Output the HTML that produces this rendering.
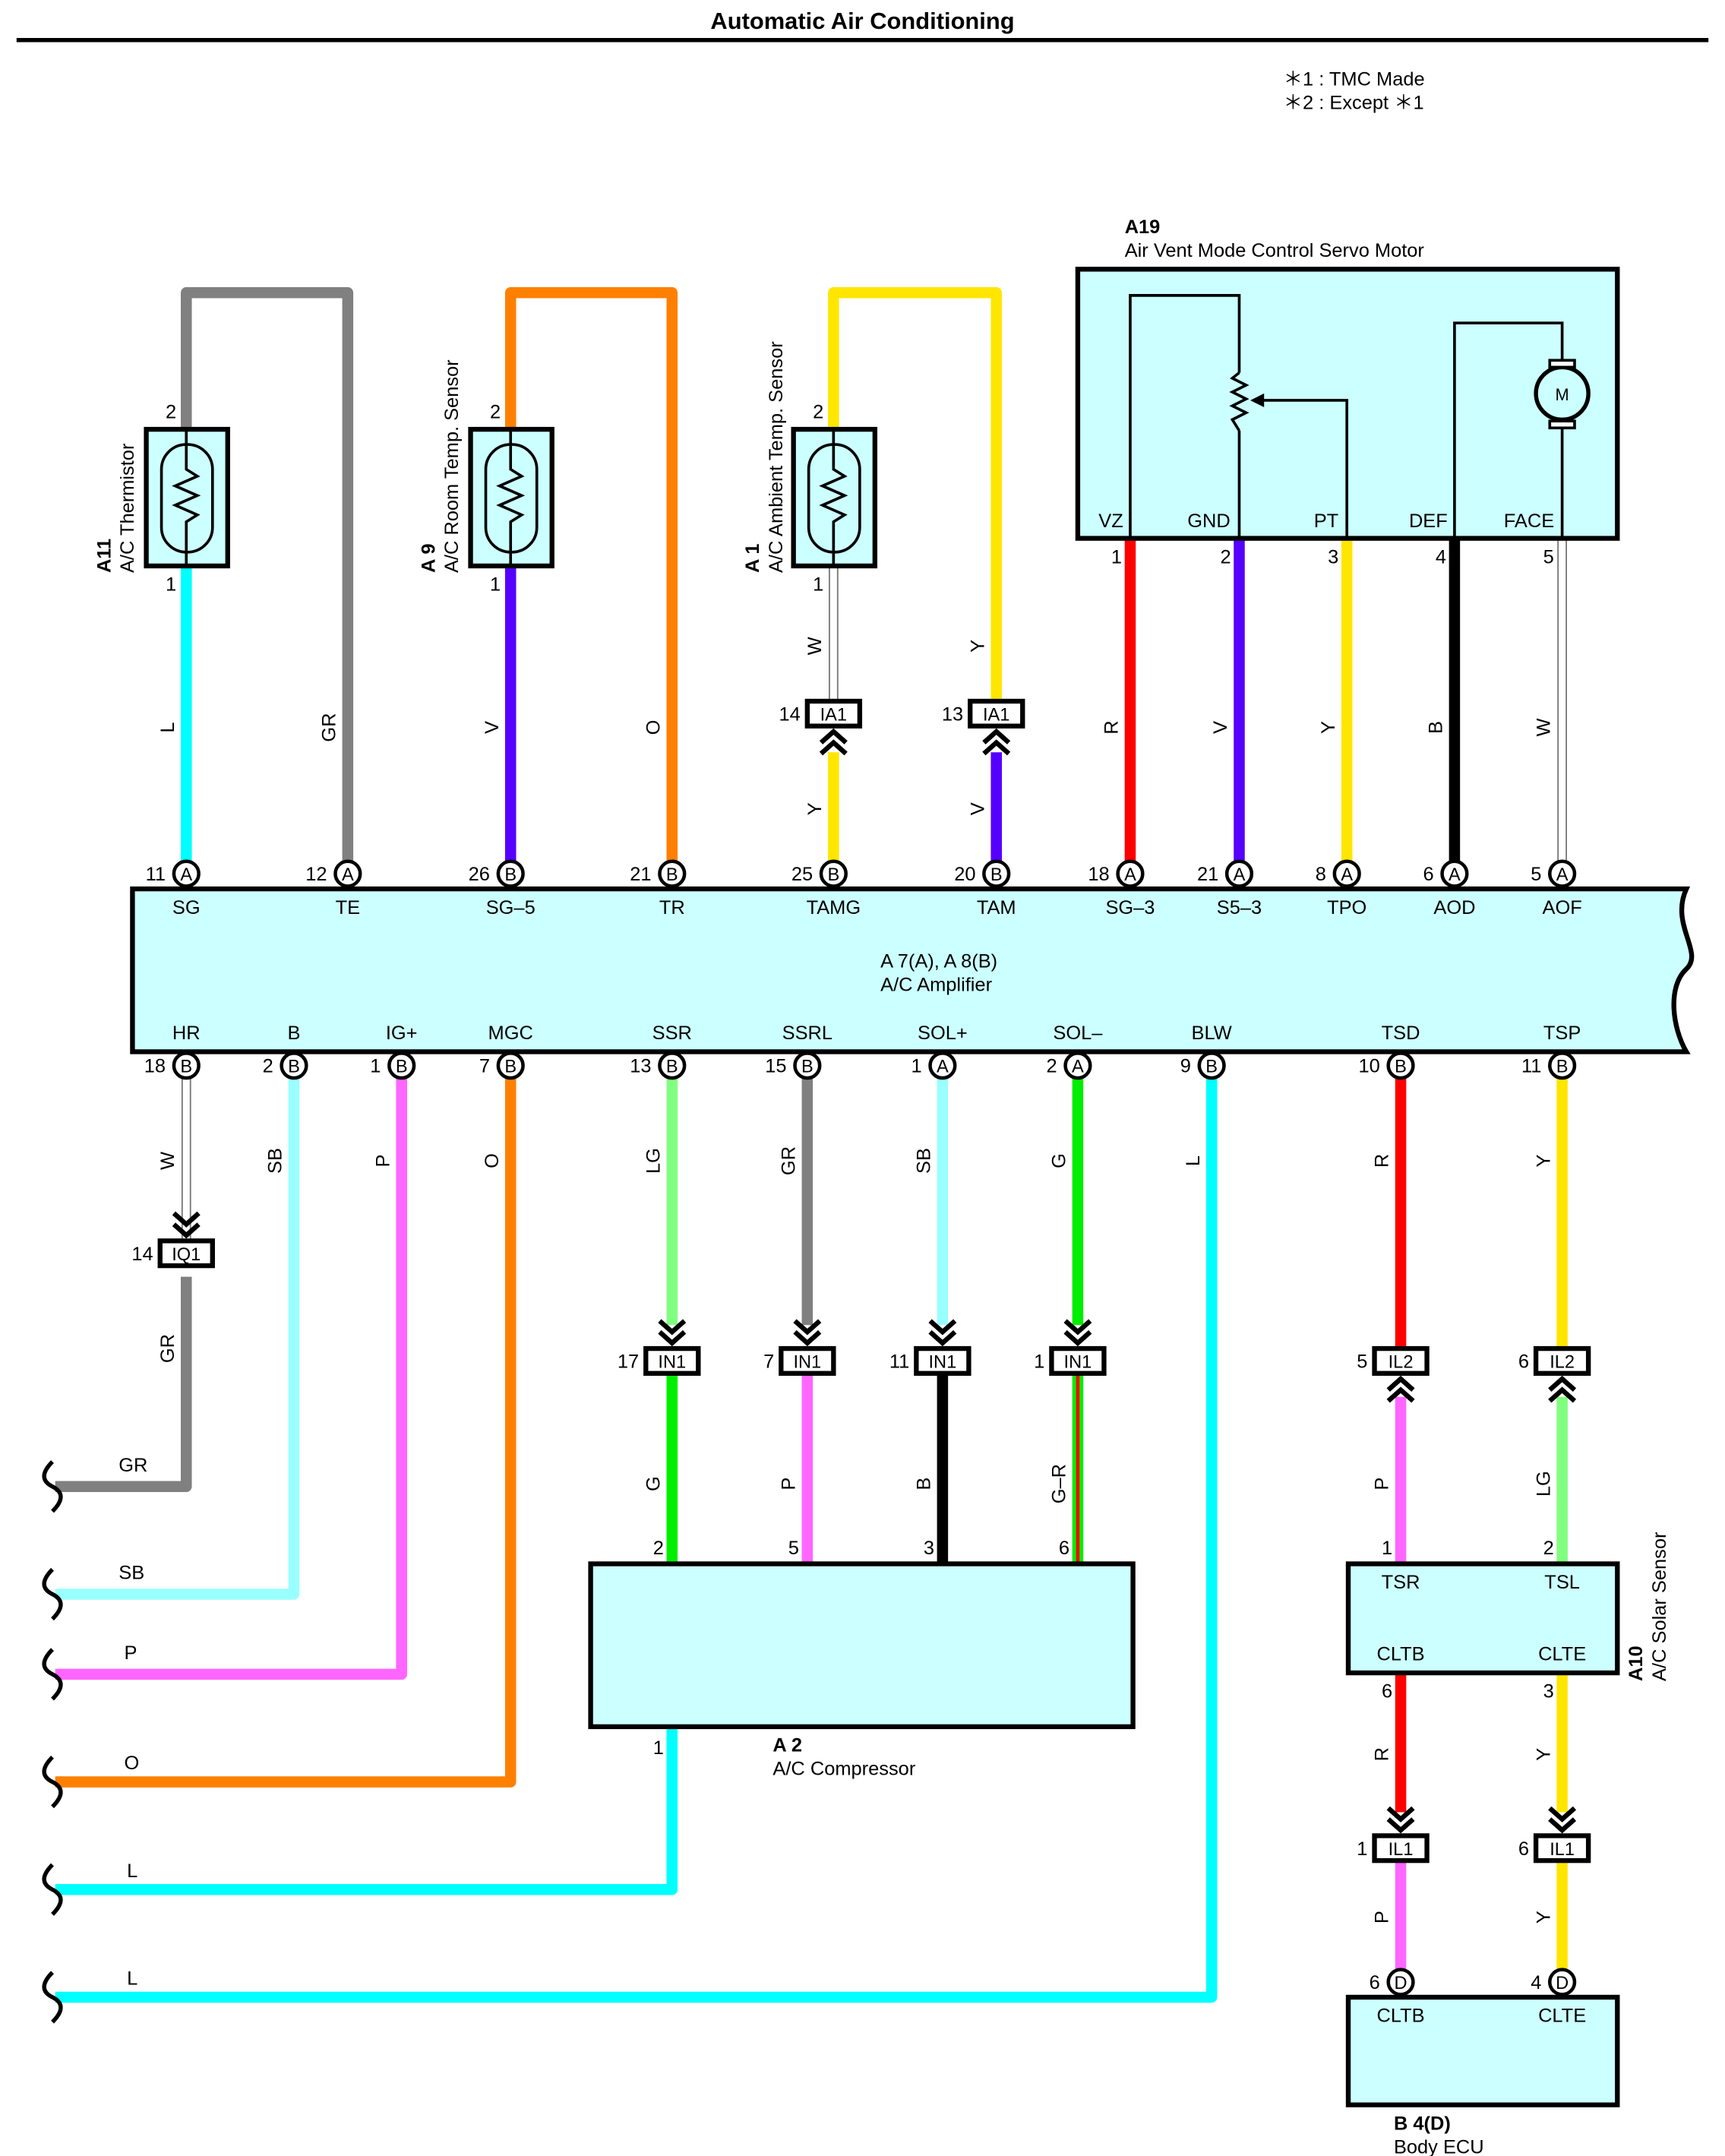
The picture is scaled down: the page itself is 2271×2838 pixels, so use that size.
<!DOCTYPE html>
<html><head><meta charset="utf-8"><style>
html,body{margin:0;padding:0;background:#fff}
svg{display:block}
text{font-family:"Liberation Sans",sans-serif;fill:#000}
</style></head><body>
<svg xmlns="http://www.w3.org/2000/svg" width="2271" height="2838" viewBox="0 0 1250 1562">
<defs>
<g id="chevU"><polyline points="-9,9 0,1 9,9" fill="none" stroke="#000" stroke-width="3.5"/><polyline points="-9,17 0,9 9,17" fill="none" stroke="#000" stroke-width="3.5"/></g>
<g id="chevD"><polyline points="-9,-9 0,-1 9,-9" fill="none" stroke="#000" stroke-width="3.5"/><polyline points="-9,-17 0,-9 9,-17" fill="none" stroke="#000" stroke-width="3.5"/></g>
<path id="wave" d="M0,-18 C-8,-10 -8,-4 0,0 C8,4 8,10 0,18" fill="none" stroke="#000" stroke-width="3"/>
</defs>

<text x="625" y="21" font-size="17" font-weight="bold" text-anchor="middle">Automatic Air Conditioning</text>
<line x1="12" y1="29" x2="1238" y2="29" stroke="#000" stroke-width="3"/>
<text x="930" y="62" font-size="14">＊1 : TMC Made</text>
<text x="930" y="79" font-size="14">＊2 : Except ＊1</text>

<g fill="none" stroke-linejoin="round" stroke-width="8">
<polyline points="135,633 135,212 252,212 252,633" stroke="#808080"/>
<polyline points="370,633 370,212 487,212 487,633" stroke="#ff8000"/>
<line x1="370" y1="410" x2="370" y2="633" stroke="#5500ff"/>
<line x1="135" y1="410" x2="135" y2="633" stroke="#00ffff"/>
<polyline points="604,310 604,212 722,212 722,508" stroke="#ffe600"/>
<line x1="604" y1="545" x2="604" y2="633" stroke="#ffe600"/>
<line x1="722" y1="545" x2="722" y2="633" stroke="#5500ff"/>
<line x1="819" y1="390" x2="819" y2="633" stroke="#ff0000"/>
<line x1="898" y1="390" x2="898" y2="633" stroke="#5500ff"/>
<line x1="976" y1="390" x2="976" y2="633" stroke="#ffe600"/>
<line x1="1054" y1="390" x2="1054" y2="633" stroke="#000"/>
<polyline points="135,925 135,1077 40,1077" stroke="#808080"/>
<polyline points="213,772 213,1155 40,1155" stroke="#99ffff"/>
<polyline points="291,772 291,1213 40,1213" stroke="#ff66ff"/>
<polyline points="370,772 370,1291 40,1291" stroke="#ff8000"/>
<polyline points="487,1251 487,1369 40,1369" stroke="#00ffff"/>
<polyline points="878,772 878,1447 40,1447" stroke="#00ffff"/>
<line x1="487" y1="772" x2="487" y2="960" stroke="#80ff80"/>
<line x1="585" y1="772" x2="585" y2="960" stroke="#808080"/>
<line x1="683" y1="772" x2="683" y2="960" stroke="#99ffff"/>
<line x1="781" y1="772" x2="781" y2="960" stroke="#00ee00"/>
<line x1="487" y1="996" x2="487" y2="1133" stroke="#00ee00"/>
<line x1="585" y1="996" x2="585" y2="1133" stroke="#ff66ff"/>
<line x1="683" y1="996" x2="683" y2="1133" stroke="#000"/>
<line x1="781" y1="996" x2="781" y2="1133" stroke="#00ee00"/>
<line x1="1015" y1="772" x2="1015" y2="977" stroke="#ff0000"/>
<line x1="1132" y1="772" x2="1132" y2="977" stroke="#ffe600"/>
<line x1="1015" y1="1012" x2="1015" y2="1133" stroke="#ff66ff"/>
<line x1="1132" y1="1012" x2="1132" y2="1133" stroke="#80ff80"/>
<line x1="1015" y1="1212" x2="1015" y2="1313" stroke="#ff0000"/>
<line x1="1132" y1="1212" x2="1132" y2="1313" stroke="#ffe600"/>
<line x1="1015" y1="1349" x2="1015" y2="1436" stroke="#ff66ff"/>
<line x1="1132" y1="1349" x2="1132" y2="1436" stroke="#ffe600"/>
</g>
<line x1="781" y1="996" x2="781" y2="1133" stroke="#ff0000" stroke-width="2.5"/>
<g fill="none">
<line x1="604" y1="410" x2="604" y2="508" stroke="#777" stroke-width="7"/><line x1="604" y1="410" x2="604" y2="508" stroke="#fff" stroke-width="5"/>
<line x1="1132" y1="390" x2="1132" y2="633" stroke="#777" stroke-width="7"/><line x1="1132" y1="390" x2="1132" y2="633" stroke="#fff" stroke-width="5"/>
<line x1="135" y1="772" x2="135" y2="898" stroke="#777" stroke-width="7"/><line x1="135" y1="772" x2="135" y2="898" stroke="#fff" stroke-width="5"/>
</g>

<use href="#wave" x="38" y="1077"/><use href="#wave" x="38" y="1155"/><use href="#wave" x="38" y="1213"/>
<use href="#wave" x="38" y="1291"/><use href="#wave" x="38" y="1369"/><use href="#wave" x="38" y="1447"/>

<g stroke="#000" fill="#ccffff">
<rect x="106" y="311" width="59" height="99" stroke-width="3.5"/>
<rect x="341" y="311" width="59" height="99" stroke-width="3.5"/>
<rect x="575" y="311" width="59" height="99" stroke-width="3.5"/>
</g>
<g fill="none" stroke="#000" stroke-width="2">
<g id="therm"><rect x="117" y="322" width="37" height="78" rx="18"/><polyline points="135,311 135,340 143,345 127,352 143,359 127,366 143,373 135,378 135,410"/></g>
<use href="#therm" x="235"/><use href="#therm" x="469"/>
</g>
<g font-size="14">
<text x="120" y="303">2</text><text x="120" y="428">1</text>
<text x="355" y="303">2</text><text x="355" y="428">1</text>
<text x="589" y="303">2</text><text x="589" y="428">1</text>
</g>
<g font-size="14">
<text transform="translate(80,415) rotate(-90)"><tspan font-weight="bold">A11</tspan></text>
<text transform="translate(97,415) rotate(-90)">A/C Thermistor</text>
<text transform="translate(315,415) rotate(-90)"><tspan font-weight="bold">A 9</tspan></text>
<text transform="translate(332,415) rotate(-90)">A/C Room Temp.  Sensor</text>
<text transform="translate(550,415) rotate(-90)"><tspan font-weight="bold">A 1</tspan></text>
<text transform="translate(567,415) rotate(-90)">A/C Ambient Temp.  Sensor</text>
</g>

<text x="815" y="169" font-size="14" font-weight="bold">A19</text>
<text x="815" y="186" font-size="14">Air Vent Mode Control Servo Motor</text>
<rect x="781" y="195" width="391" height="195" fill="#ccffff" stroke="#000" stroke-width="3.5"/>
<g fill="none" stroke="#000" stroke-width="2">
<polyline points="819,390 819,214 898,214 898,270"/>
<polyline points="898,390 898,312"/>
<polyline points="898,270 893,274 903,279 893,284 903,289 893,294 903,299 893,304 898,312"/>
<polyline points="976,390 976,290 908,290"/>
<polyline points="1054,390 1054,234 1132,234 1132,262"/>
<line x1="1132" y1="308" x2="1132" y2="390"/>
<circle cx="1132" cy="285" r="19" stroke-width="3"/>
<rect x="1123" y="261" width="18" height="5" fill="#fff"/><rect x="1123" y="305" width="18" height="5" fill="#fff"/>
</g>
<polygon points="906,290 916,285 916,295" fill="#000"/>
<text x="1132" y="290" font-size="12" text-anchor="middle">M</text>
<g font-size="14" text-anchor="middle">
<text x="805" y="382">VZ</text><text x="876" y="382">GND</text><text x="961" y="382">PT</text><text x="1035" y="382">DEF</text><text x="1108" y="382">FACE</text>
</g>
<g font-size="14" text-anchor="end">
<text x="813" y="408">1</text><text x="892" y="408">2</text><text x="970" y="408">3</text><text x="1048" y="408">4</text><text x="1126" y="408">5</text>
</g>

<path d="M96,644 H1222 C1210,670 1235,690 1222,702 C1208,715 1212,745 1222,762 H96 Z" fill="#ccffff" stroke="#000" stroke-width="3.5"/>
<text x="638" y="701" font-size="14">A 7(A), A 8(B)</text>
<text x="638" y="718" font-size="14">A/C Amplifier</text>
<g font-size="14" text-anchor="middle">
<text x="135" y="662">SG</text><text x="252" y="662">TE</text><text x="370" y="662">SG–5</text><text x="487" y="662">TR</text><text x="604" y="662">TAMG</text><text x="722" y="662">TAM</text><text x="819" y="662">SG–3</text><text x="898" y="662">S5–3</text><text x="976" y="662">TPO</text><text x="1054" y="662">AOD</text><text x="1132" y="662">AOF</text>
<text x="135" y="753">HR</text><text x="213" y="753">B</text><text x="291" y="753">IG+</text><text x="370" y="753">MGC</text><text x="487" y="753">SSR</text><text x="585" y="753">SSRL</text><text x="683" y="753">SOL+</text><text x="781" y="753">SOL–</text><text x="878" y="753">BLW</text><text x="1015" y="753">TSD</text><text x="1132" y="753">TSP</text>
</g>

<!-- A2 -->
<rect x="428" y="1133" width="393" height="118" fill="#ccffff" stroke="#000" stroke-width="3.5"/>
<!-- A10 -->
<rect x="977" y="1133" width="195" height="79" fill="#ccffff" stroke="#000" stroke-width="3.5"/>
<!-- B4 -->
<rect x="977" y="1447" width="195" height="78" fill="#ccffff" stroke="#000" stroke-width="3.5"/>

<g font-size="13" text-anchor="middle">
<g fill="#fff" stroke="#000" stroke-width="2.5">
<circle cx="135" cy="633" r="9"/><circle cx="252" cy="633" r="9"/><circle cx="370" cy="633" r="9"/><circle cx="487" cy="633" r="9"/><circle cx="604" cy="633" r="9"/><circle cx="722" cy="633" r="9"/><circle cx="819" cy="633" r="9"/><circle cx="898" cy="633" r="9"/><circle cx="976" cy="633" r="9"/><circle cx="1054" cy="633" r="9"/><circle cx="1132" cy="633" r="9"/>
<circle cx="135" cy="772" r="9"/><circle cx="213" cy="772" r="9"/><circle cx="291" cy="772" r="9"/><circle cx="370" cy="772" r="9"/><circle cx="487" cy="772" r="9"/><circle cx="585" cy="772" r="9"/><circle cx="683" cy="772" r="9"/><circle cx="781" cy="772" r="9"/><circle cx="878" cy="772" r="9"/><circle cx="1015" cy="772" r="9"/><circle cx="1132" cy="772" r="9"/>
<circle cx="1015" cy="1436" r="9"/><circle cx="1132" cy="1436" r="9"/>
</g>
<text x="135" y="638">A</text><text x="252" y="638">A</text><text x="370" y="638">B</text><text x="487" y="638">B</text><text x="604" y="638">B</text><text x="722" y="638">B</text><text x="819" y="638">A</text><text x="898" y="638">A</text><text x="976" y="638">A</text><text x="1054" y="638">A</text><text x="1132" y="638">A</text>
<text x="135" y="777">B</text><text x="213" y="777">B</text><text x="291" y="777">B</text><text x="370" y="777">B</text><text x="487" y="777">B</text><text x="585" y="777">B</text><text x="683" y="777">A</text><text x="781" y="777">A</text><text x="878" y="777">B</text><text x="1015" y="777">B</text><text x="1132" y="777">B</text>
<text x="1015" y="1441">D</text><text x="1132" y="1441">D</text>
</g>
<g font-size="14" text-anchor="end">
<text x="120" y="638">11</text><text x="237" y="638">12</text><text x="355" y="638">26</text><text x="472" y="638">21</text><text x="589" y="638">25</text><text x="707" y="638">20</text><text x="804" y="638">18</text><text x="883" y="638">21</text><text x="961" y="638">8</text><text x="1039" y="638">6</text><text x="1117" y="638">5</text>
<text x="120" y="777">18</text><text x="198" y="777">2</text><text x="276" y="777">1</text><text x="355" y="777">7</text><text x="472" y="777">13</text><text x="570" y="777">15</text><text x="668" y="777">1</text><text x="766" y="777">2</text><text x="863" y="777">9</text><text x="1000" y="777">10</text><text x="1117" y="777">11</text>
<text x="1000" y="1441">6</text><text x="1117" y="1441">4</text>
</g>

<g fill="#fff" stroke="#000" stroke-width="3.5">
<rect x="585" y="508" width="38" height="18"/><rect x="703" y="508" width="38" height="18"/>
<rect x="116" y="899" width="38" height="18"/>
<rect x="468" y="977" width="38" height="18"/><rect x="566" y="977" width="38" height="18"/><rect x="664" y="977" width="38" height="18"/><rect x="762" y="977" width="38" height="18"/>
<rect x="996" y="977" width="38" height="18"/><rect x="1113" y="977" width="38" height="18"/>
<rect x="996" y="1330" width="38" height="18"/><rect x="1113" y="1330" width="38" height="18"/>
</g>
<use href="#chevU" x="604" y="529"/><use href="#chevU" x="722" y="529"/>
<use href="#chevU" x="1015" y="998"/><use href="#chevU" x="1132" y="998"/>
<use href="#chevD" x="135" y="896"/>
<use href="#chevD" x="487" y="974"/><use href="#chevD" x="585" y="974"/><use href="#chevD" x="683" y="974"/><use href="#chevD" x="781" y="974"/>
<use href="#chevD" x="1015" y="1327"/><use href="#chevD" x="1132" y="1327"/>
<g font-size="13" text-anchor="middle">
<text x="604" y="522">IA1</text><text x="722" y="522">IA1</text><text x="135" y="913">IQ1</text>
<text x="487" y="991">IN1</text><text x="585" y="991">IN1</text><text x="683" y="991">IN1</text><text x="781" y="991">IN1</text>
<text x="1015" y="991">IL2</text><text x="1132" y="991">IL2</text><text x="1015" y="1344">IL1</text><text x="1132" y="1344">IL1</text>
</g>
<g font-size="14" text-anchor="end">
<text x="580" y="522">14</text><text x="698" y="522">13</text><text x="111" y="913">14</text>
<text x="463" y="991">17</text><text x="561" y="991">7</text><text x="659" y="991">11</text><text x="757" y="991">1</text>
<text x="991" y="991">5</text><text x="1108" y="991">6</text><text x="991" y="1344">1</text><text x="1108" y="1344">6</text>
</g>

<g font-size="14" text-anchor="end">
<text x="481" y="1126">2</text><text x="579" y="1126">5</text><text x="677" y="1126">3</text><text x="775" y="1126">6</text><text x="481" y="1271">1</text>
</g>
<text x="560" y="1269" font-size="14" font-weight="bold">A 2</text>
<text x="560" y="1286" font-size="14">A/C Compressor</text>

<g font-size="14" text-anchor="middle">
<text x="1015" y="1151">TSR</text><text x="1132" y="1151">TSL</text><text x="1015" y="1203">CLTB</text><text x="1132" y="1203">CLTE</text>
<text x="1015" y="1465">CLTB</text><text x="1132" y="1465">CLTE</text>
</g>
<g font-size="14" text-anchor="end">
<text x="1009" y="1126">1</text><text x="1126" y="1126">2</text><text x="1009" y="1230">6</text><text x="1126" y="1230">3</text>
</g>
<text transform="translate(1190,1218) rotate(-90)" font-size="14"><tspan font-weight="bold">A10</tspan></text>
<text transform="translate(1207,1218) rotate(-90)" font-size="14">A/C Solar Sensor</text>
<text x="1010" y="1543" font-size="14" font-weight="bold">B 4(D)</text>
<text x="1010" y="1560" font-size="14">Body ECU</text>

<g font-size="14" text-anchor="middle">
<text transform="translate(126,527) rotate(-90)">L</text>
<text transform="translate(243,527) rotate(-90)">GR</text>
<text transform="translate(361,527) rotate(-90)">V</text>
<text transform="translate(478,527) rotate(-90)">O</text>
<text transform="translate(595,468) rotate(-90)">W</text>
<text transform="translate(595,586) rotate(-90)">Y</text>
<text transform="translate(713,468) rotate(-90)">Y</text>
<text transform="translate(713,586) rotate(-90)">V</text>
<text transform="translate(810,527) rotate(-90)">R</text>
<text transform="translate(889,527) rotate(-90)">V</text>
<text transform="translate(967,527) rotate(-90)">Y</text>
<text transform="translate(1045,527) rotate(-90)">B</text>
<text transform="translate(1123,527) rotate(-90)">W</text>
<text transform="translate(126,841) rotate(-90)">W</text>
<text transform="translate(126,977) rotate(-90)">GR</text>
<text transform="translate(204,841) rotate(-90)">SB</text>
<text transform="translate(282,841) rotate(-90)">P</text>
<text transform="translate(361,841) rotate(-90)">O</text>
<text transform="translate(478,841) rotate(-90)">LG</text>
<text transform="translate(576,841) rotate(-90)">GR</text>
<text transform="translate(674,841) rotate(-90)">SB</text>
<text transform="translate(772,841) rotate(-90)">G</text>
<text transform="translate(869,841) rotate(-90)">L</text>
<text transform="translate(1006,841) rotate(-90)">R</text>
<text transform="translate(1123,841) rotate(-90)">Y</text>
<text transform="translate(478,1075) rotate(-90)">G</text>
<text transform="translate(576,1075) rotate(-90)">P</text>
<text transform="translate(674,1075) rotate(-90)">B</text>
<text transform="translate(772,1075) rotate(-90)">G–R</text>
<text transform="translate(1006,1075) rotate(-90)">P</text>
<text transform="translate(1123,1075) rotate(-90)">LG</text>
<text transform="translate(1006,1271) rotate(-90)">R</text>
<text transform="translate(1123,1271) rotate(-90)">Y</text>
<text transform="translate(1006,1389) rotate(-90)">P</text>
<text transform="translate(1123,1389) rotate(-90)">Y</text>
</g>
<g font-size="14">
<text x="86" y="1066">GR</text><text x="86" y="1144">SB</text><text x="90" y="1202">P</text><text x="90" y="1282">O</text><text x="92" y="1360">L</text><text x="92" y="1438">L</text>
</g>
</svg>
</body></html>
